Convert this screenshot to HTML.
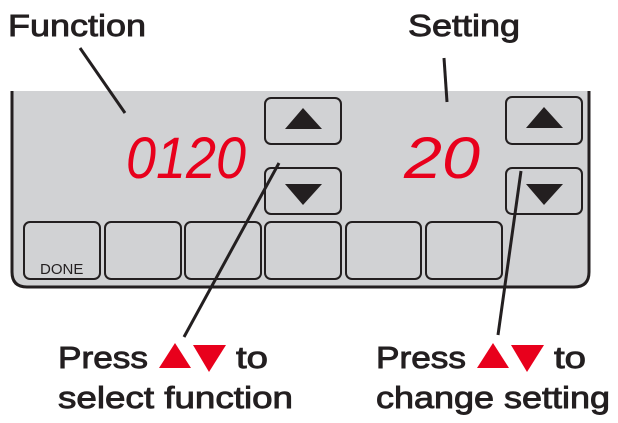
<!DOCTYPE html>
<html><head><style>
html,body{margin:0;padding:0;background:#fff;width:618px;height:423px;overflow:hidden}
</style></head><body>
<svg width="618" height="423" viewBox="0 0 618 423" xmlns="http://www.w3.org/2000/svg" font-family="Liberation Sans, sans-serif">
<path d="M12,91 V272 Q12,287 27,287 H574 Q589,287 589,272 V91 Z" fill="#d1d2d4"/>
<path d="M12,91 V272 Q12,287 27,287 H574 Q589,287 589,272 V91" fill="none" stroke="#231f20" stroke-width="3"/>
<g fill="none" stroke="#231f20" stroke-width="2">
<rect x="265" y="98" width="76" height="46" rx="6"/>
<rect x="265" y="168" width="76" height="46" rx="6"/>
<rect x="506" y="97" width="76" height="47" rx="6"/>
<rect x="506" y="168" width="76" height="46" rx="6"/>
<rect x="24" y="222" width="76" height="57" rx="6"/>
<rect x="105" y="222" width="76" height="57" rx="6"/>
<rect x="185" y="222" width="76" height="57" rx="6"/>
<rect x="265" y="222" width="76" height="57" rx="6"/>
<rect x="346" y="222" width="75" height="57" rx="6"/>
<rect x="426" y="222" width="76" height="57" rx="6"/>
</g>
<g fill="#231f20">
<polygon points="303,108 322,129 285,129"/>
<polygon points="285,184 322,184 303,205"/>
<polygon points="544,107 563,128 526,128"/>
<polygon points="526,184 563,184 544,205"/>
</g>
<text x="40" y="274" font-size="15" fill="#231f20">DONE</text>
<text x="126" y="178" font-size="58" font-style="italic" fill="#e8001c" textLength="120" lengthAdjust="spacingAndGlyphs">0120</text>
<text x="404" y="178" font-size="58" font-style="italic" fill="#e8001c" textLength="76" lengthAdjust="spacingAndGlyphs">20</text>
<g stroke="#231f20" stroke-width="3">
<line x1="80" y1="48" x2="125" y2="113"/>
<line x1="444" y1="58" x2="447" y2="102"/>
<line x1="279" y1="163" x2="184" y2="337"/>
<line x1="521" y1="171" x2="498" y2="335"/>
</g>
<g font-size="31" fill="#231f20" stroke="#231f20" stroke-width="0.9">
<text x="8" y="36" textLength="138" lengthAdjust="spacingAndGlyphs">Function</text>
<text x="408" y="36" textLength="112" lengthAdjust="spacingAndGlyphs">Setting</text>
<text x="58" y="368" textLength="90" lengthAdjust="spacingAndGlyphs">Press</text>
<text x="236" y="368" textLength="32" lengthAdjust="spacingAndGlyphs">to</text>
<text x="58" y="408" textLength="235" lengthAdjust="spacingAndGlyphs">select function</text>
<text x="376" y="368" textLength="90" lengthAdjust="spacingAndGlyphs">Press</text>
<text x="554" y="368" textLength="32" lengthAdjust="spacingAndGlyphs">to</text>
<text x="376" y="408" textLength="234" lengthAdjust="spacingAndGlyphs">change setting</text>
</g>
<g fill="#e8001c">
<polygon points="175,343 191,368 159,368"/>
<polygon points="193,345 226,345 209,372"/>
<polygon points="493,343 509,368 477,368"/>
<polygon points="511,345 544,345 527,372"/>
</g>
</svg>
</body></html>
